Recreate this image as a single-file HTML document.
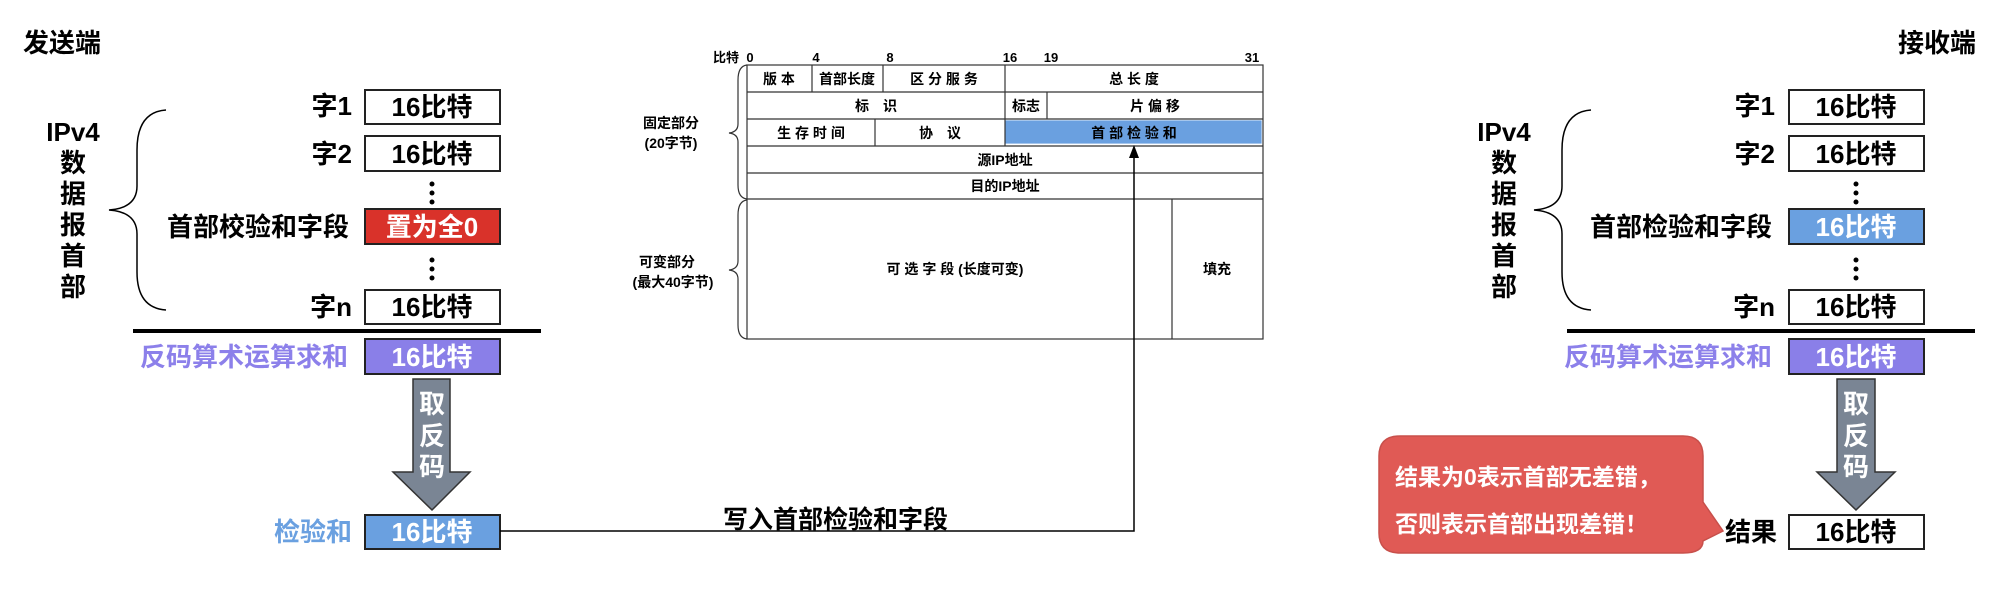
<!DOCTYPE html>
<html><head><meta charset="utf-8"><style>
html,body{margin:0;padding:0;background:#fff;}
svg{display:block;}
text{font-family:"Liberation Sans","Noto Sans CJK SC",sans-serif;font-weight:bold;}
</style></head><body>
<svg width="2014" height="590" viewBox="0 0 2014 590" xmlns="http://www.w3.org/2000/svg">
<!-- ===== LEFT (sender) ===== -->
<text x="23" y="52" font-size="26">发送端</text>
<g font-size="26" text-anchor="middle">
<text x="73" y="141">IPv4</text>
<text x="73" y="172">数</text><text x="73" y="203">据</text><text x="73" y="234">报</text><text x="73" y="265">首</text><text x="73" y="296">部</text>
</g>
<path d="M166,110 Q137,112 137,150 L137,186 Q137,208 109,210 Q137,212 137,234 L137,272 Q137,308 166,310" fill="none" stroke="#000" stroke-width="1.5"/>
<g font-size="26" text-anchor="end">
<text x="352" y="115">字1</text><text x="352" y="163">字2</text>
<text x="349" y="236">首部校验和字段</text><text x="352" y="316">字n</text>
<text x="348" y="366" fill="#8c80ea">反码算术运算求和</text>
<text x="352" y="541" fill="#6aa0e0">检验和</text>
</g>
<g stroke="#222" stroke-width="2">
<rect x="365" y="90" width="135" height="34" fill="#fff"/>
<rect x="365" y="136" width="135" height="35" fill="#fff"/>
<rect x="365" y="209" width="135" height="35" fill="#d9322a"/>
<rect x="365" y="290" width="135" height="34" fill="#fff"/>
<rect x="365" y="339" width="135" height="35" fill="#8a7fe8"/>
<rect x="365" y="515" width="135" height="34" fill="#6aa0e0"/>
</g>
<g font-size="26" text-anchor="middle">
<text x="432" y="116">16比特</text><text x="432" y="163">16比特</text>
<text x="432" y="236" fill="#fff">置为全0</text><text x="432" y="316">16比特</text>
<text x="432" y="366" fill="#fff">16比特</text><text x="432" y="541" fill="#fff">16比特</text>
</g>
<g fill="#000"><circle cx="432" cy="184" r="2.5"/><circle cx="432" cy="193" r="2.5"/><circle cx="432" cy="202" r="2.5"/>
<circle cx="432" cy="260" r="2.5"/><circle cx="432" cy="269" r="2.5"/><circle cx="432" cy="278" r="2.5"/></g>
<rect x="133" y="329" width="408" height="4" fill="#000"/>
<path d="M413,379 L450,379 L450,472 L470,472 L432,510 L393,472 L413,472 Z" fill="#7a8594" stroke="#333" stroke-width="1.5"/>
<g font-size="26" text-anchor="middle" fill="#fff"><text x="432" y="413">取</text><text x="432" y="445">反</text><text x="432" y="476">码</text></g>
<text x="723" y="528" font-size="25">写入首部检验和字段</text>
<!-- ===== CENTER TABLE ===== -->
<g font-size="13" text-anchor="middle">
<text x="726" y="62">比特</text><text x="750" y="62">0</text><text x="816" y="62">4</text><text x="890" y="62">8</text>
<text x="1010" y="62">16</text><text x="1051" y="62">19</text><text x="1252" y="62">31</text>
</g>
<g fill="none" stroke="#333" stroke-width="1.2">
<rect x="747" y="65" width="516" height="274" fill="#fff"/>
<rect x="1006" y="121" width="255" height="22" fill="#6aa0e0" stroke="#6aa0e0"/>
<line x1="747" y1="92" x2="1263" y2="92"/><line x1="747" y1="119" x2="1263" y2="119"/>
<line x1="747" y1="146" x2="1263" y2="146"/><line x1="747" y1="173" x2="1263" y2="173"/>
<line x1="747" y1="199" x2="1263" y2="199"/>
<line x1="812" y1="65" x2="812" y2="92"/><line x1="883" y1="65" x2="883" y2="92"/>
<line x1="1005" y1="65" x2="1005" y2="146"/><line x1="1047" y1="92" x2="1047" y2="119"/>
<line x1="875" y1="119" x2="875" y2="146"/><line x1="1172" y1="199" x2="1172" y2="339"/>
<path d="M747,65 Q738,66 738,80 L738,124 Q738,132 729,133 Q738,134 738,142 L738,185 Q738,198 747,199"/>
<path d="M747,200 Q738,201 738,215 L738,261 Q738,269 729,270 Q738,271 738,279 L738,325 Q738,338 747,339"/>
</g>
<g font-size="14" text-anchor="middle">
<text x="779" y="84">版 本</text><text x="847" y="84">首部长度</text><text x="944" y="84">区 分 服 务</text><text x="1134" y="84">总 长 度</text>
<text x="876" y="111">标　识</text><text x="1026" y="111">标志</text><text x="1155" y="111">片 偏 移</text>
<text x="811" y="138">生 存 时 间</text><text x="940" y="138">协　议</text><text x="1134" y="138">首 部 检 验 和</text>
<text x="1005" y="165">源IP地址</text><text x="1005" y="191">目的IP地址</text>
<text x="955" y="274">可 选 字 段 (长度可变)</text><text x="1217" y="274">填充</text>
<text x="671" y="128">固定部分</text><text x="671" y="148">(20字节)</text>
<text x="667" y="267">可变部分</text><text x="673" y="287">(最大40字节)</text>
</g>
<!-- connector (drawn after table) -->
<polyline points="500,531 1134,531 1134,156" fill="none" stroke="#000" stroke-width="1.5"/>
<polygon points="1129,158 1139,158 1134,145" fill="#000"/>
<!-- ===== RIGHT (receiver) ===== -->
<text x="1898" y="52" font-size="26">接收端</text>
<g font-size="26" text-anchor="middle">
<text x="1504" y="141">IPv4</text>
<text x="1504" y="172">数</text><text x="1504" y="203">据</text><text x="1504" y="234">报</text><text x="1504" y="265">首</text><text x="1504" y="296">部</text>
</g>
<path d="M1591,110 Q1562,112 1562,150 L1562,186 Q1562,208 1534,210 Q1562,212 1562,234 L1562,272 Q1562,308 1591,310" fill="none" stroke="#000" stroke-width="1.5"/>
<g font-size="26" text-anchor="end">
<text x="1775" y="115">字1</text><text x="1775" y="163">字2</text>
<text x="1772" y="236">首部检验和字段</text><text x="1775" y="316">字n</text>
<text x="1772" y="366" fill="#8c80ea">反码算术运算求和</text>
<text x="1777" y="541">结果</text>
</g>
<g stroke="#222" stroke-width="2">
<rect x="1789" y="90" width="135" height="34" fill="#fff"/>
<rect x="1789" y="136" width="135" height="35" fill="#fff"/>
<rect x="1789" y="209" width="135" height="35" fill="#6aa0e0"/>
<rect x="1789" y="290" width="135" height="34" fill="#fff"/>
<rect x="1789" y="339" width="135" height="35" fill="#8a7fe8"/>
<rect x="1789" y="515" width="135" height="34" fill="#fff"/>
</g>
<g font-size="26" text-anchor="middle">
<text x="1856" y="116">16比特</text><text x="1856" y="163">16比特</text>
<text x="1856" y="236" fill="#fff">16比特</text><text x="1856" y="316">16比特</text>
<text x="1856" y="366" fill="#fff">16比特</text><text x="1856" y="541">16比特</text>
</g>
<g fill="#000"><circle cx="1856" cy="184" r="2.5"/><circle cx="1856" cy="193" r="2.5"/><circle cx="1856" cy="202" r="2.5"/>
<circle cx="1856" cy="260" r="2.5"/><circle cx="1856" cy="269" r="2.5"/><circle cx="1856" cy="278" r="2.5"/></g>
<rect x="1567" y="329" width="408" height="4" fill="#000"/>
<path d="M1837,379 L1875,379 L1875,472 L1895,472 L1856,510 L1817,472 L1837,472 Z" fill="#7a8594" stroke="#333" stroke-width="1.5"/>
<g font-size="26" text-anchor="middle" fill="#fff"><text x="1856" y="413">取</text><text x="1856" y="445">反</text><text x="1856" y="476">码</text></g>
<!-- callout -->
<path d="M1400,436 L1683,436 Q1703,436 1703,456 L1703,502 L1723,531 L1703,541 Q1703,553 1683,553 L1400,553 Q1379,553 1379,533 L1379,456 Q1379,436 1400,436 Z" fill="#e05a55" stroke="#c8504b" stroke-width="1.5"/>
<g font-size="23" fill="#fff"><text x="1395" y="485">结果为0表示首部无差错，</text><text x="1395" y="532">否则表示首部出现差错！</text></g>
</svg>
</body></html>
